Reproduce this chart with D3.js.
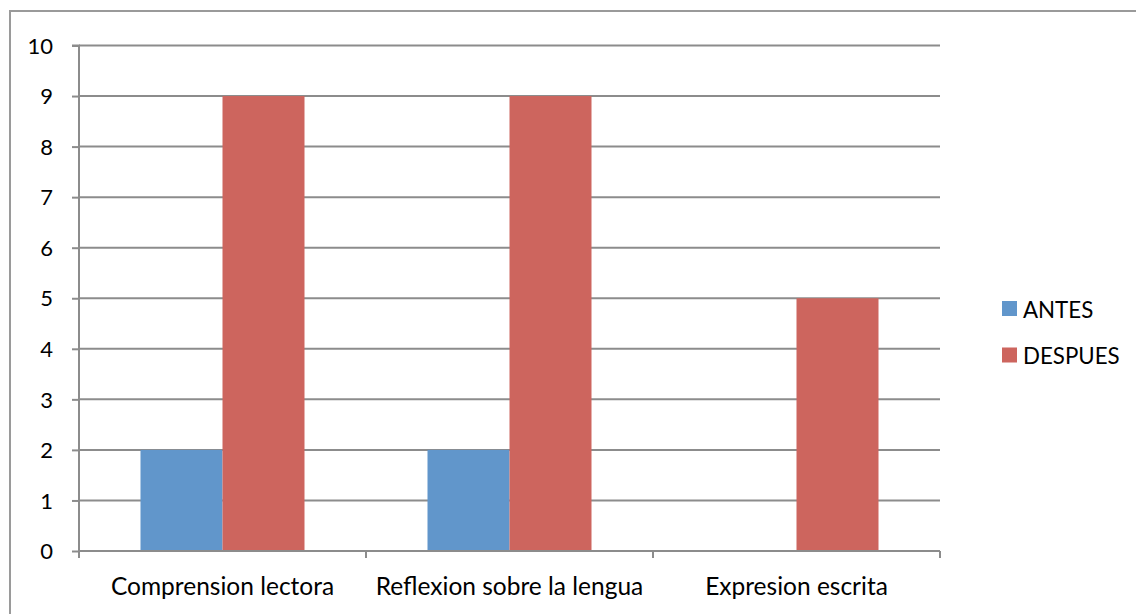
<!DOCTYPE html>
<html><head><meta charset="utf-8">
<script src="https://cdn.jsdelivr.net/npm/d3@7"></script>
<style>body{margin:0;background:#fff}svg{display:block}text{font-family:Lato,"Open Sans",sans-serif;fill:#000}</style>
</head><body><svg id="c" width="1136" height="614"></svg>
<script>
const categories = ["Comprension lectora", "Reflexion sobre la lengua", "Expresion escrita"];
const seriesNames = ["ANTES", "DESPUES"];
const antes = [2, 2, 0];
const despues = [9, 9, 5];
const yTicks = [0,1,2,3,4,5,6,7,8,9,10];
const colors = ["#6196CB", "#CD655E"];

const svg = d3.select("#c");
const L = 79, R = 940, T = 45.5, B = 551;
const fsY = 22, fsX = 24.5, fsL = 22.3;

svg.append("rect").attr("x",10).attr("y",11).attr("width",1200).attr("height",700)
  .attr("fill","none").attr("stroke","#9a9a9a").attr("stroke-width",2);

const x = d3.scaleBand().domain(categories).range([L,R]).padding(0);
const y = d3.scaleLinear().domain([0,10]).range([B,T]);
const gap = 1.5;
const bw = x.bandwidth()/(2+gap);
const xs = d3.scaleBand().domain(seriesNames).range([bw*gap/2, bw*gap/2 + 2*bw]).padding(0);

// gridlines
svg.append("g").selectAll("line").data(yTicks.filter(d=>d>0)).join("line")
  .attr("x1",L).attr("x2",R).attr("y1",d=>y(d)).attr("y2",d=>y(d))
  .attr("stroke","#8c8c8c").attr("stroke-width",2);

// bars
const data = categories.map((c,i)=>({c, vals:[antes[i], despues[i]]}));
const g = svg.append("g");
data.forEach(d=>{
  d.vals.forEach((v,j)=>{
    if(v<=0) return;
    g.append("rect").attr("x",x(d.c)+xs(seriesNames[j])).attr("width",xs.bandwidth())
      .attr("y",y(v)).attr("height",y(0)-y(v)).attr("fill",colors[j]);
  });
});

// y axis
const yAxis = d3.axisLeft(y).tickValues(yTicks).tickSize(7).tickPadding(19).tickFormat(d3.format("d"));
const ya = svg.append("g").attr("transform",`translate(${L},0)`).call(yAxis);
ya.select(".domain").attr("stroke","#8c8c8c").attr("stroke-width",2).attr("d",`M-7,${T}H0V${B}`);
ya.selectAll(".tick line").attr("stroke","#8c8c8c").attr("stroke-width",2);
ya.selectAll(".tick text").attr("font-size",fsY).attr("font-family","Lato").attr("fill","#000").attr("dy","0.35em");

// x axis
const xAxis = d3.axisBottom(x).tickSize(0).tickPadding(27);
const xa = svg.append("g").attr("transform",`translate(0,${B})`).call(xAxis);
xa.select(".domain").attr("stroke","#8c8c8c").attr("stroke-width",2).attr("d",`M${L},0H${R}`);
xa.selectAll(".tick text").attr("font-size",fsX).attr("font-family","Lato").attr("fill","#000").attr("dy","0.71em");
// category boundary ticks
svg.append("g").selectAll("line").data(categories.map(c=>x(c)).concat([R])).join("line")
  .attr("x1",d=>d).attr("x2",d=>d).attr("y1",B).attr("y2",B+7)
  .attr("stroke","#8c8c8c").attr("stroke-width",2);

// legend
const lg = svg.append("g").attr("transform","translate(1002,301)");
seriesNames.forEach((n,i)=>{
  lg.append("rect").attr("x",0).attr("y",i*46.5).attr("width",15).attr("height",15).attr("fill",colors[i]);
  lg.append("text").attr("x",21).attr("y",i*46.5+16.5).attr("font-size",fsL).text(n);
});
</script></body></html>
